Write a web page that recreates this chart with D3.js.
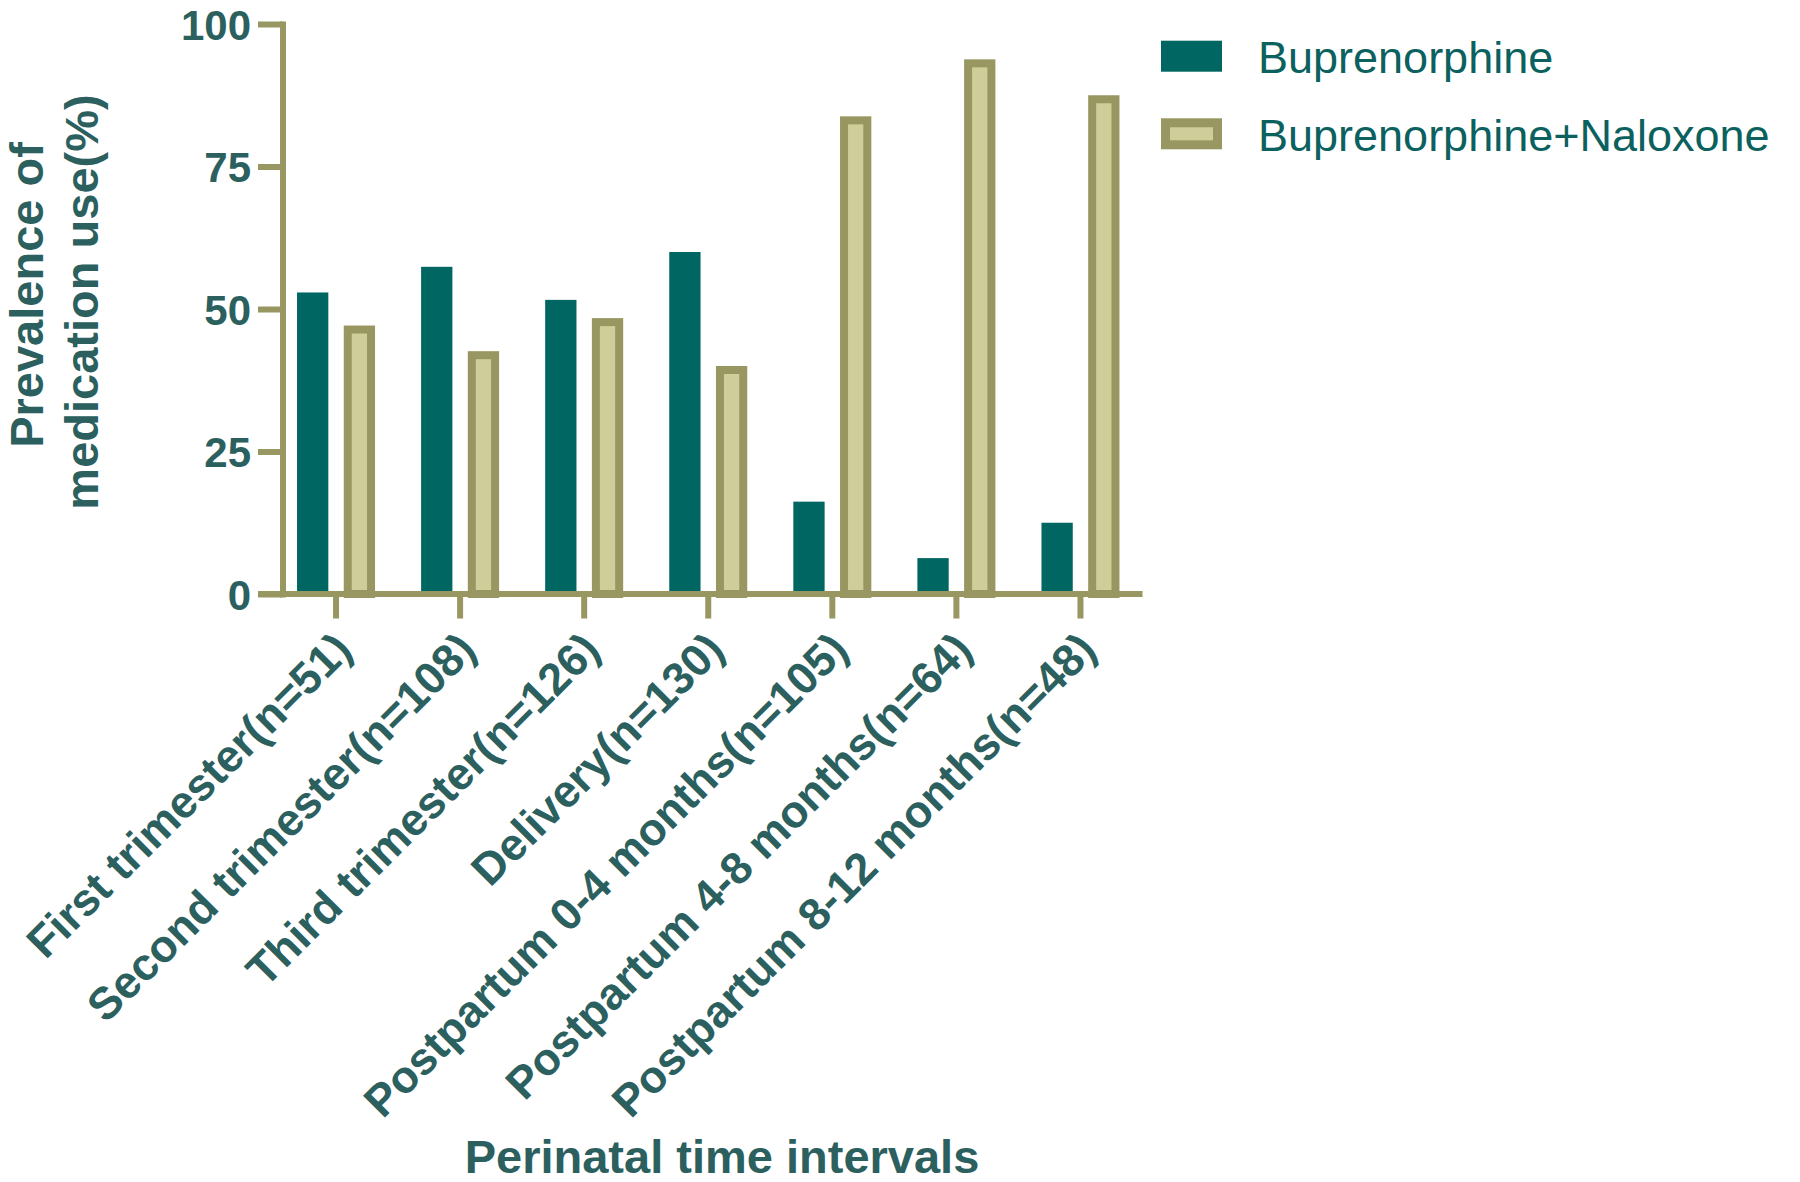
<!DOCTYPE html>
<html>
<head>
<meta charset="utf-8">
<script src="https://cdn.jsdelivr.net/npm/d3@7"></script>
<style>
  html, body { margin: 0; padding: 0; background: #ffffff; }
  svg { display: block; }
</style>
</head>
<body>
<svg id="chart" width="1800" height="1182"></svg>
<script>
// ---- data ----
const categories = [
  "First trimester(n=51)",
  "Second trimester(n=108)",
  "Third trimester(n=126)",
  "Delivery(n=130)",
  "Postpartum 0-4 months(n=105)",
  "Postpartum 4-8 months(n=64)",
  "Postpartum 8-12 months(n=48)"
];
const seriesNames = ["Buprenorphine", "Buprenorphine+Naloxone"];
const buprenorphine = [52.9, 57.4, 51.6, 60.0, 16.2, 6.3, 12.5];
const buprenorphineNaloxone = [47.1, 42.6, 48.4, 40.0, 83.8, 93.8, 87.5];
const yTickValues = [0, 25, 50, 75, 100];
const yTitleLines = ["Prevalence of", "medication use(%)"];
const xTitle = "Perinatal time intervals";

// ---- styles ----
const TEAL = "#006662";
const TAN_FILL = "#cfcd9a";
const OLIVE = "#999761";
const LABEL = "#2b605f";
const LEGEND_TEXT = "#0b615e";
const FONT = "'Liberation Sans', Arial, Helvetica, sans-serif";
const SW = 8;          // tan bar outline
const AXW = 6;         // axis line width
const TICK = 24.5;

const svg = d3.select("#chart");

const y = d3.scaleLinear().domain([0, 100]).range([594, 24]);
const yAxisX = 282.5;
const x = d3.scaleBand().domain(categories).range([274, 1142.5]).padding(0);
const xSub = d3.scaleBand().domain(seriesNames).range([-39, 39]).paddingInner(0.33);

const rows = categories.map((c, i) => ({
  cat: c,
  vals: [
    { s: seriesNames[0], v: buprenorphine[i] },
    { s: seriesNames[1], v: buprenorphineNaloxone[i] }
  ]
}));

// ---- bars ----
const groups = svg.append("g").selectAll("g").data(rows).join("g")
  .attr("transform", d => `translate(${x(d.cat) + x.bandwidth() / 2},0)`);

groups.selectAll("rect").data(d => d.vals).join("rect")
  .attr("x", d => d.s === seriesNames[0] ? xSub(d.s) : xSub(d.s) + SW / 2)
  .attr("width", d => d.s === seriesNames[0] ? xSub.bandwidth() : xSub.bandwidth() - SW)
  .attr("y", d => d.s === seriesNames[0] ? y(d.v) : y(d.v) + SW / 2)
  .attr("height", d => d.s === seriesNames[0] ? y(0) - y(d.v) : y(0) - y(d.v) - SW / 2)
  .attr("fill", d => d.s === seriesNames[0] ? TEAL : TAN_FILL)
  .attr("stroke", d => d.s === seriesNames[0] ? "none" : OLIVE)
  .attr("stroke-width", SW);

// ---- y axis ----
const yAxis = svg.append("g")
  .attr("transform", `translate(${yAxisX},0)`)
  .call(d3.axisLeft(y).tickValues(yTickValues).tickSize(TICK).tickSizeOuter(0).tickPadding(7));
yAxis.select(".domain")
  .attr("stroke", OLIVE).attr("stroke-width", AXW).attr("stroke-linecap", "square");
yAxis.selectAll(".tick line").attr("stroke", OLIVE).attr("stroke-width", AXW);
yAxis.selectAll(".tick text")
  .attr("fill", LABEL)
  .attr("font-family", FONT)
  .attr("font-weight", "bold")
  .attr("font-size", 42)
  .attr("dy", "0.36em");

// ---- x axis ----
const xAxis = svg.append("g")
  .attr("transform", `translate(0,${y(0)})`)
  .call(d3.axisBottom(x).tickSize(TICK).tickSizeOuter(0));
xAxis.select(".domain").remove();
xAxis.insert("line", ":first-child")
  .attr("x1", yAxisX - TICK).attr("x2", x.range()[1])
  .attr("y1", 0).attr("y2", 0)
  .attr("stroke", OLIVE).attr("stroke-width", AXW);
xAxis.selectAll(".tick line").attr("stroke", OLIVE).attr("stroke-width", AXW);
xAxis.selectAll(".tick text")
  .attr("x", 0).attr("y", 0).attr("dy", 0)
  .attr("transform", "translate(18,58) rotate(-45)")
  .attr("text-anchor", "end")
  .attr("fill", LABEL)
  .attr("font-family", FONT)
  .attr("font-weight", "bold")
  .attr("font-size", 45);

// ---- axis titles ----
const yTitleX = [43, 98];
const yTitleY = [295, 302];
svg.append("g").selectAll("text").data(yTitleLines).join("text")
  .attr("transform", (d, i) => `translate(${yTitleX[i]},${yTitleY[i]}) rotate(-90)`)
  .attr("text-anchor", "middle")
  .attr("fill", LABEL)
  .attr("font-family", FONT)
  .attr("font-weight", "bold")
  .attr("font-size", 47)
  .text(d => d);

svg.append("text")
  .attr("x", 722).attr("y", 1173)
  .attr("text-anchor", "middle")
  .attr("fill", LABEL)
  .attr("font-family", FONT)
  .attr("font-weight", "bold")
  .attr("font-size", 47)
  .text(xTitle);

// ---- legend ----
const legend = svg.append("g").attr("transform", "translate(1161,40.7)");
const li = legend.selectAll("g").data(seriesNames).join("g")
  .attr("transform", (d, i) => `translate(0,${i * 77.6})`);
li.append("rect")
  .attr("x", (d, i) => i === 0 ? 0 : 4.5)
  .attr("y", (d, i) => i === 0 ? 0 : 4.5)
  .attr("width", (d, i) => i === 0 ? 61 : 52)
  .attr("height", (d, i) => i === 0 ? 31 : 22)
  .attr("fill", (d, i) => i === 0 ? TEAL : TAN_FILL)
  .attr("stroke", (d, i) => i === 0 ? "none" : OLIVE)
  .attr("stroke-width", 9);
li.append("text")
  .attr("x", 97).attr("y", 32.6)
  .attr("fill", LEGEND_TEXT)
  .attr("font-family", FONT)
  .attr("font-size", 45)
  .text(d => d);
</script>
</body>
</html>
